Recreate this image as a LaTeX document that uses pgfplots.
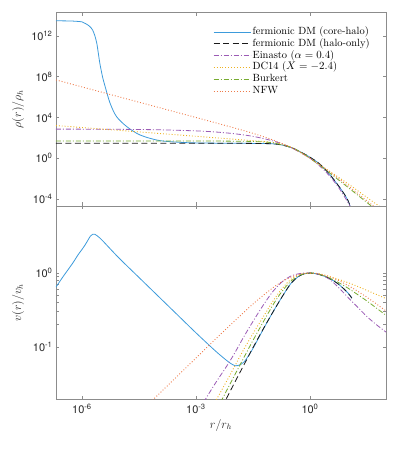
\documentclass[border=0pt]{standalone}
\usepackage{fontspec}
\usepackage{pgfplots}
\pgfplotsset{compat=1.18}
\newfontfamily\tickfont{TeX Gyre Heros}
\definecolor{cblue}{HTML}{3D9BDB}
\definecolor{cblack}{HTML}{1A1A1A}
\definecolor{cpurp}{HTML}{9B5BB5}
\definecolor{cyell}{HTML}{EDB120}
\definecolor{cgreen}{HTML}{77AC30}
\definecolor{corange}{HTML}{EE7B4A}
\definecolor{cframe}{HTML}{8C8C8C}
\tikzset{
  lcore/.style={cblue, line width=0.8bp},
  lhalo/.style={cblack, line width=0.8bp, dash pattern=on 6bp off 3.5bp},
  lein/.style={cpurp, line width=0.8bp, dash pattern=on 5bp off 2bp on 1bp off 2bp},
  ldc/.style={cyell, line width=0.9bp, dash pattern=on 0.9bp off 2bp},
  lbur/.style={cgreen, line width=0.8bp, dash pattern=on 5bp off 2bp on 1bp off 2bp},
  lnfw/.style={corange, line width=0.9bp, dash pattern=on 0.9bp off 2bp},
}
\begin{document}
\begin{tikzpicture}
\path[use as bounding box] (-56bp,-49.7bp) rectangle (343bp,399.3bp);

% ---------- density panel ----------
\begin{axis}[
  scale only axis, width=330bp, height=193.7bp,
  at={(0,193.3bp)}, anchor=south west,
  xmode=log, ymode=log,
  xmin=2.07e-7, xmax=100,
  ymin=2.06e-5, ymax=2.09e14,
  xtick={1e-6,1e-3,1},
  xticklabels={,,},
  ytick={1e-4,1,1e4,1e8,1e12},
  yticklabels={10\textsuperscript{-4},10\textsuperscript{0},10\textsuperscript{4},10\textsuperscript{8},10\textsuperscript{12}},
  minor tick num=0,
  xtick pos=both, ytick pos=both,
  axis line style={cframe, line width=0.7bp},
  tick style={cframe, line width=0.6bp},
  major tick length=3.5bp,
  tick align=inside,
  tick label style={font=\tickfont\fontsize{11}{13}\selectfont, text=black!85},
  label style={font=\fontsize{12}{14}\selectfont, text=black!85},
  ylabel={$\rho(r)/\rho_h$},
  ylabel style={at={(axis description cs:-0.115,0.5)}, anchor=center},
  legend cell align=left,
  legend image code/.code={\draw[#1] (0bp,0bp) -- (37bp,0bp);},
  legend style={draw=none, fill=none, at={(rel axis cs:0.476,0.93)}, anchor=north west,
    font=\fontsize{10.5}{12}\selectfont, inner xsep=0bp, inner ysep=0bp, row sep=0bp,
    nodes={text height=7.6bp, text depth=2.5bp, inner ysep=0.85bp, inner xsep=1.5bp}},
]
\addplot[lcore, smooth] coordinates {
(2.07e-7,3.09e13) (3.162e-7,3.02e13) (5.623e-7,2.884e13) (1e-6,2.399e13)
(1.259e-6,1.585e13) (1.585e-6,8.913e12) (1.905e-6,3.802e12) (2.188e-6,1e12)
(2.455e-6,1.862e11) (2.692e-6,2.0e10) (2.951e-6,2.042e9) (3.467e-6,1e8)
(4.074e-6,1.047e7) (5.495e-6,2.455e5) (8.128e-6,1.202e4) (1.514e-5,1259)
(3.388e-5,190.5) (1.122e-4,53.7) (5.754e-4,33.9) (3.162e-3,30.2) (0.01,29.5)
(0.03162,28.5) (0.1,26.3) (0.1778,20.4) (0.3162,11.22) (0.5623,4.169) (1,1.259)
(1.778,0.2818) (3.162,0.03162) (5.623,1.995e-3) (7.943,3.162e-4) (10,7.079e-5) (11.48,1.778e-5)};
\addlegendentry{fermionic DM (core-halo)}
\addplot[lhalo, smooth] coordinates {
(2.07e-7,29.5) (1e-3,29.5) (0.01,29.2) (0.03162,28.5) (0.1,26.3) (0.1778,20.4)
(0.3162,11.22) (0.5623,4.169) (1,1.259) (1.778,0.2818) (3.162,0.03162)
(5.623,1.995e-3) (7.943,3.162e-4) (10,7.079e-5) (11.48,1.778e-5)};
\addlegendentry{fermionic DM (halo-only)}
\addplot[lein, smooth] coordinates {
(2.07e-7,722.8) (1e-6,714.5) (1e-5,687.1) (1e-4,620.9) (1e-3,483.1) (3.162e-3,379.3)
(0.01,257.6) (0.03162,140.0) (0.1,53.09) (0.3162,11.43) (1,1) (1.778,0.1816)
(3.162,0.02113) (5.623,1.406e-3) (10,4.667e-5) (11.48,1.81e-5)};
\addlegendentry{Einasto ($\alpha = 0.4$)}
\addplot[ldc, smooth] coordinates {
(2.07e-7,1622) (1e-6,1035) (1e-5,534.6) (1e-4,276.1) (1e-3,142.6) (0.01,73.62)
(0.03162,52.72) (0.1,35.81) (0.1778,25.18) (0.3162,12.30) (0.5623,3.917) (1,1)
(1.778,0.2399) (3.162,0.05675) (10,3.148e-3) (31.62,1.413e-4) (63.1,2.239e-5) (70.79,1.585e-5)};
\addlegendentry{DC14 ($X = -2.4$)}
\addplot[lbur, smooth] coordinates {
(2.07e-7,48.75) (1e-3,48.6) (0.01,47.21) (0.03162,43.75) (0.1,33.34) (0.3162,11.75)
(0.5623,4.0) (1,1) (1.778,0.2109) (3.162,0.04083) (10,1.39e-3) (31.62,4.487e-5)
(39.81,2.254e-5) (42.66,1.83e-5)};
\addlegendentry{Burkert}
\addplot[lnfw, smooth] coordinates {
(2.07e-7,4.842e7) (1e-6,1e7) (1e-5,1e6) (1e-4,1e5) (1e-3,9954) (0.01,959.4)
(0.03162,277.3) (0.1,67.61) (0.3162,11.17) (0.5623,3.622) (1,1) (1.778,0.2399)
(3.162,0.05152) (10,1.954e-3) (31.62,6.607e-5) (44.67,2.35e-5) (50.12,1.667e-5)};
\addlegendentry{NFW}
\end{axis}

% ---------- velocity panel ----------
\begin{axis}[
  scale only axis, width=330bp, height=193.3bp,
  at={(0,0)}, anchor=south west,
  xmode=log, ymode=log,
  xmin=2.07e-7, xmax=100,
  ymin=0.0195, ymax=8.1,
  xtick={1e-6,1e-3,1},
  xticklabels={10\textsuperscript{-6},10\textsuperscript{-3},10\textsuperscript{0}},
  ytick={0.1,1},
  yticklabels={10\textsuperscript{-1},10\textsuperscript{0}},
  minor tick num=0,
  xtick pos=both, ytick pos=both,
  axis line style={cframe, line width=0.7bp},
  tick style={cframe, line width=0.6bp},
  major tick length=3.5bp,
  tick align=inside,
  tick label style={font=\tickfont\fontsize{11}{13}\selectfont, text=black!85},
  xticklabel style={yshift=-1.5bp},
  label style={font=\fontsize{12}{14}\selectfont, text=black!85},
  xlabel={$r/r_h$},
  xlabel style={at={(axis description cs:0.5,-0.133)}, anchor=center},
  ylabel={$v(r)/v_h$},
  ylabel style={at={(axis description cs:-0.115,0.5)}, anchor=center},
]
\addplot[lcore, smooth] coordinates {
(2.07e-7,0.6457) (3.162e-7,0.8913) (5.623e-7,1.349) (7.943e-7,1.778) (1e-6,2.089)
(1.202e-6,2.399) (1.413e-6,2.754) (1.660e-6,3.162) (1.905e-6,3.350) (2.188e-6,3.350)
(2.512e-6,3.199) (2.951e-6,2.985) (3.467e-6,2.754) (5.495e-6,2.138) (1e-5,1.549)
(3.162e-5,0.8710) (1e-4,0.4898) (3.162e-4,0.2754)
(1e-3,0.1549) (3.162e-3,0.08913) (5.623e-3,0.06918) (7.943e-3,0.06026)
(0.01072,0.05559) (0.01413,0.05689) (0.01778,0.06166) (0.02138,0.06918)
(0.03162,0.09550) (0.05623,0.1660) (0.1,0.2818) (0.1778,0.4624) (0.3162,0.7244)
(0.5623,0.9333) (1,1) (1.778,0.9550) (3.162,0.8511) (5.623,0.7079) (10,0.5370) (12.59,0.4571)};
\addplot[lhalo, smooth] coordinates {
(6.31e-3,0.01995) (0.01,0.03162) (0.01778,0.05559) (0.03162,0.09772) (0.05623,0.1679)
(0.1,0.2818) (0.1778,0.4624) (0.3162,0.7244) (0.5623,0.9333) (1,1) (1.778,0.9550)
(3.162,0.8511) (5.623,0.7079) (10,0.5370) (12.59,0.4571)};
\addplot[lein, smooth] coordinates {
(1.585e-3,0.01778) (3.162e-3,0.03162) (6.31e-3,0.05408) (0.01,0.07943) (0.01778,0.1349)
(0.03162,0.2213) (0.05623,0.3548) (0.1,0.5433) (0.1778,0.7499) (0.3162,0.9120)
(0.5623,0.9886) (1,1) (1.778,0.9550) (3.162,0.8318) (5.623,0.6383) (10,0.4677)
(17.78,0.3467) (31.62,0.2570) (56.23,0.1995) (100,0.1585)};
\addplot[ldc, smooth] coordinates {
(3.162e-3,0.01778) (6.31e-3,0.03388) (0.01,0.05248) (0.01778,0.09120) (0.03162,0.1514)
(0.05623,0.2455) (0.1,0.3981) (0.1778,0.6026) (0.3162,0.8222) (0.5623,0.9550) (1,1)
(1.778,0.9772) (3.162,0.9016) (5.623,0.8222) (10,0.7413) (17.78,0.6607) (31.62,0.5821)
(56.23,0.5129) (100,0.4519)};
\addplot[lbur, smooth] coordinates {
(4.467e-3,0.01799) (5.012e-3,0.02009) (0.01,0.03981) (0.03162,0.1225) (0.1,0.3516)
(0.1778,0.5526) (0.3162,0.7776) (0.5623,0.9452) (1,1) (1.778,0.9587) (3.162,0.8623)
(5.623,0.7444) (10,0.6251) (17.78,0.5129) (31.62,0.4181) (56.23,0.3350) (100,0.2678)};
\addplot[lnfw, smooth] coordinates {
(7.079e-5,0.01881) (1e-4,0.02236) (3.162e-4,0.03975) (1e-3,0.07071) (3.162e-3,0.1256)
(0.01,0.2203) (0.03162,0.3811) (0.1,0.6198) (0.1778,0.7568) (0.3162,0.8820)
(0.5623,0.9692) (1,1) (1.778,0.9712) (3.162,0.8960) (5.623,0.7925) (10,0.6808)
(17.78,0.5699) (31.62,0.4688) (56.23,0.3811) (100,0.3062)};
\end{axis}
\end{tikzpicture}
\end{document}
